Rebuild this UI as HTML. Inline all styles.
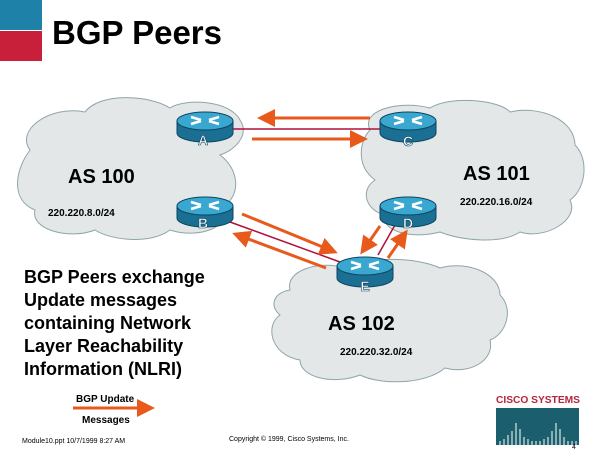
<!DOCTYPE html>
<html><head><style>
body{margin:0;background:#fff;}
svg{display:block;font-family:"Liberation Sans",Arial,sans-serif;}
</style></head><body>
<svg width="600" height="450" viewBox="0 0 600 450">
<defs>
<marker id="ah" markerWidth="6" markerHeight="6" refX="5" refY="3" orient="auto" markerUnits="strokeWidth"><path d="M0,0 L6,3 L0,6 Z" fill="#e85a1c"/></marker>
<g id="rt">
<path d="M-28,-6 L-28,6 A28,9 0 0 0 28,6 L28,-6 Z" fill="#1a6f93" stroke="#0c4660"/>
<ellipse cx="0" cy="-6" rx="28" ry="9" fill="#3aa7d0" stroke="#0c4660"/>
<path d="M-14,-10 L-4,-7 M-14,-3 L-4,-6 M14,-10 L4,-7 M14,-3 L4,-6" stroke="#fff" stroke-width="2.5"/>
</g>
</defs>
<rect x="0" y="0" width="42" height="30" fill="#1e82a8"/>
<rect x="0" y="31" width="42" height="30" fill="#c8203a"/>
<text x="52" y="44" font-size="33" font-weight="bold">BGP Peers</text>
<g fill="#e3e7e7" stroke="#8fa5a8" stroke-width="1">
<path d="M30,150 C15,130 50,105 85,112 C100,92 150,95 170,108 C185,98 230,100 240,120 C250,135 235,150 220,155 C240,170 240,195 225,205 C235,225 200,240 170,230 C150,245 110,240 95,230 C70,240 30,230 35,210 C10,200 15,170 30,150 Z"/>
<path d="M370,130 C360,110 400,100 430,108 C450,95 500,100 510,112 C540,105 575,120 575,145 C590,160 585,190 570,200 C580,220 545,240 520,232 C500,245 460,240 440,232 C410,240 380,230 385,215 C365,210 360,190 375,180 C355,165 360,140 370,130 Z"/>
<path d="M290,290 C285,270 320,260 345,268 C370,255 420,258 440,268 C470,260 500,275 500,295 C515,310 505,335 490,340 C495,360 470,375 445,368 C425,385 380,385 360,375 C335,385 300,378 300,360 C270,355 265,325 280,315 C268,305 275,292 290,290 Z"/>
</g>
<g stroke="#b0103a" stroke-width="1.5">
<line x1="230" y1="129" x2="385" y2="129"/>
<line x1="230" y1="222" x2="340" y2="262"/>
<line x1="395" y1="225" x2="378" y2="255"/>
</g>
<g stroke="#e85a1c" stroke-width="3" fill="none" marker-end="url(#ah)">
<line x1="370" y1="118" x2="260" y2="118"/>
<line x1="252" y1="139" x2="365" y2="139"/>
<line x1="242" y1="214" x2="335" y2="252"/>
<line x1="326" y1="268" x2="235" y2="234"/>
<line x1="380" y1="226" x2="362" y2="252"/>
<line x1="388" y1="258" x2="406" y2="232"/>
<line x1="73" y1="408" x2="152" y2="408"/>
</g>
<use href="#rt" x="205" y="127"/>
<use href="#rt" x="408" y="127"/>
<use href="#rt" x="205" y="212"/>
<use href="#rt" x="408" y="212"/>
<use href="#rt" x="365" y="272"/>
<g fill="#fff" font-weight="bold" font-size="14" text-anchor="middle" stroke="#0c4660" stroke-width="0.6">
<text x="203" y="145">A</text><text x="408" y="146">C</text>
<text x="203" y="228">B</text><text x="408" y="228">D</text>
<text x="365" y="291">E</text>
</g>
<g font-weight="bold">
<text x="68" y="183" font-size="20">AS 100</text>
<text x="463" y="180" font-size="20">AS 101</text>
<text x="328" y="330" font-size="20">AS 102</text>
<text x="48" y="216" font-size="10">220.220.8.0/24</text>
<text x="460" y="205" font-size="10">220.220.16.0/24</text>
<text x="340" y="355" font-size="10">220.220.32.0/24</text>
<g font-size="18">
<text x="24" y="283">BGP Peers exchange</text>
<text x="24" y="306">Update messages</text>
<text x="24" y="329">containing Network</text>
<text x="24" y="352">Layer Reachability</text>
<text x="24" y="375">Information (NLRI)</text>
</g>
<text x="76" y="402" font-size="10">BGP Update</text>
<text x="82" y="423" font-size="10">Messages</text>
</g>
<text x="496" y="403" font-size="10" font-weight="bold" fill="#b8243c" textLength="84" lengthAdjust="spacingAndGlyphs">CISCO SYSTEMS</text>
<rect x="496" y="408" width="83" height="37" fill="#1b5f6e"/>
<g stroke="#fff" stroke-width="1">
<path d="M500,445 v-4 M504,445 v-6 M508,445 v-10 M512,445 v-14 M516,445 v-22 M520,445 v-16 M524,445 v-8 M528,445 v-6 M532,445 v-4 M536,445 v-4 M540,445 v-4 M544,445 v-6 M548,445 v-8 M552,445 v-14 M556,445 v-22 M560,445 v-16 M564,445 v-8 M568,445 v-4 M572,445 v-4 M576,445 v-4"/>
</g>
<g font-size="7">
<text x="22" y="443">Module10.ppt 10/7/1999 8:27 AM</text>
<text x="229" y="441">Copyright © 1999, Cisco Systems, Inc.</text>
<text x="572" y="449">4</text>
</g>
</svg>
</body></html>
